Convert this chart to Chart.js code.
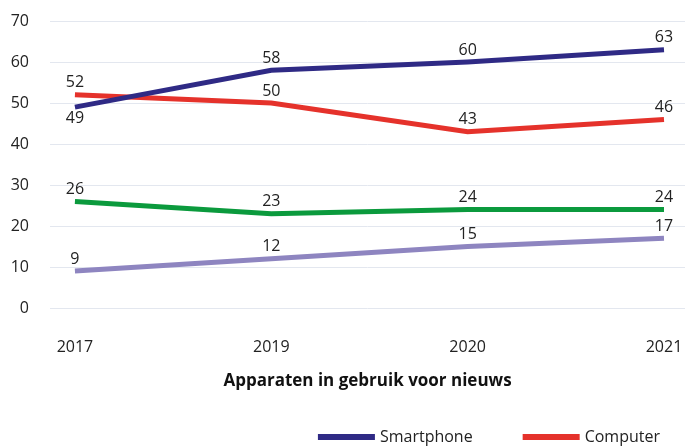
<!DOCTYPE html>
<html>
<head>
<meta charset="utf-8">
<script src="https://cdn.jsdelivr.net/npm/chart.js@4"></script>
<style>
  body { margin: 0; background: #fff; }
</style>
</head>
<body>
<canvas id="grafiek" width="697" height="446"></canvas>
<script>
const jaren = ["2017", "2019", "2020", "2021"];
const reeksen = ["Smartphone", "Computer", "Tablet", "Smart-tv"];
const smartphone = [49, 58, 60, 63];
const computer = [52, 50, 43, 46];
const tablet = [26, 23, 24, 24];
const smartTv = [9, 12, 15, 17];
const yTicks = [0, 10, 20, 30, 40, 50, 60, 70];
const legendaReeksen = ["Smartphone", "Computer"];

const kleuren = ["#2f2a85", "#e5322b", "#0b9a3d", "#8e85c0"];
const lettertype = "'Open Sans', sans-serif";

function punten(waarden) {
  return waarden.map((v, i) => ({ x: i, y: v }));
}

// waarden boven de punten, of eronder als een hogere lijn er vlak boven ligt
const labelPlugin = {
  id: "waardeLabels",
  afterDatasetsDraw(chart) {
    const ctx = chart.ctx;
    ctx.save();
    ctx.font = "16px " + lettertype;
    ctx.fillStyle = "#222";
    ctx.textAlign = "center";
    ctx.textBaseline = "middle";
    chart.data.datasets.forEach((ds, d) => {
      const meta = chart.getDatasetMeta(d);
      meta.data.forEach((p, i) => {
        const v = ds.data[i].y;
        const onder = chart.data.datasets.some((o, j) => j !== d && o.data[i].y > v && o.data[i].y - v < 6);
        ctx.fillText(String(v), p.x, onder ? p.y + 11 : p.y - 12);
      });
    });
    ctx.restore();
  }
};

// legenda: alleen de eerste rij is zichtbaar
const legendaPlugin = {
  id: "legenda",
  afterDraw(chart) {
    const ctx = chart.ctx;
    ctx.save();
    ctx.font = "16px " + lettertype;
    ctx.textBaseline = "middle";
    const y = 437;
    let x = 660;
    const items = chart.data.datasets.filter(ds => legendaReeksen.includes(ds.label)).reverse();
    items.forEach(ds => {
      const w = ctx.measureText(ds.label).width;
      x -= w;
      ctx.fillStyle = "#222";
      ctx.fillText(ds.label, x, y);
      x -= 62;
      ctx.fillStyle = ds.borderColor;
      ctx.fillRect(x, y - 3, 57, 6);
      x -= 50;
    });
    ctx.restore();
  }
};

const reeksWaarden = [smartphone, computer, tablet, smartTv];

new Chart(document.getElementById("grafiek"), {
  type: "line",
  data: {
    datasets: reeksen.map((naam, i) => ({
      label: naam,
      data: punten(reeksWaarden[i]),
      borderColor: kleuren[i],
      backgroundColor: kleuren[i],
      borderWidth: 5,
      pointRadius: 0,
      tension: 0,
      borderCapStyle: "butt",
    })),
  },
  options: {
    responsive: false,
    animation: false,
    layout: { padding: { top: 21, right: 12, bottom: 0, left: 0 } },
    plugins: {
      legend: { display: false },
      tooltip: { enabled: false },
    },
    scales: {
      x: {
        type: "linear",
        min: -0.127,
        max: 3.107,
        afterBuildTicks: axis => { axis.ticks = jaren.map((j, i) => ({ value: i })); },
        afterFit: axis => {
          axis.height = 138;
          axis.paddingLeft = 0;
          axis.paddingRight = 0;
        },
        grid: { display: false },
        border: { display: false },
        ticks: {
          callback: v => jaren[v],
          color: "#222",
          font: { family: lettertype, size: 16 },
          padding: 22,
          maxRotation: 0,
        },
        title: {
          display: true,
          text: "Apparaten in gebruik voor nieuws",
          color: "#111",
          font: { family: lettertype, size: 17, weight: "bold" },
          padding: { top: 0, bottom: 55 },
        },
      },
      y: {
        min: 0,
        max: 70,
        afterBuildTicks: axis => { axis.ticks = yTicks.map(v => ({ value: v })); },
        afterFit: axis => {
          axis.width = 50;
          axis.paddingTop = 0;
          axis.paddingBottom = 0;
        },
        grid: { color: "#e3e7ef", lineWidth: 1, drawTicks: false },
        border: { display: false },
        ticks: {
          color: "#222",
          font: { family: lettertype, size: 16 },
          padding: 21,
        },
      },
    },
  },
  plugins: [labelPlugin, legendaPlugin],
});
</script>
</body>
</html>
